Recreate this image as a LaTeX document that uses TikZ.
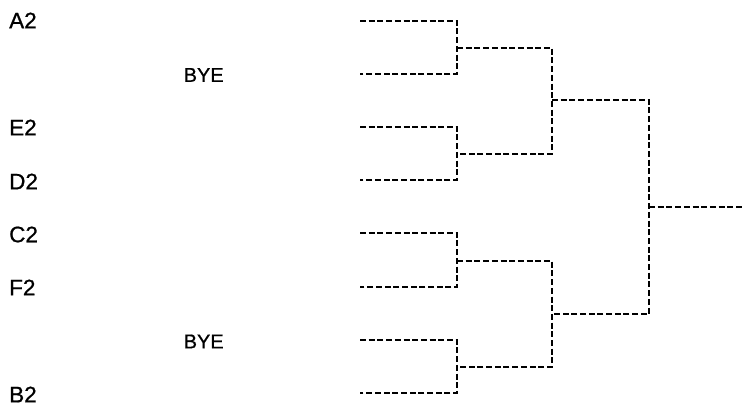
\documentclass[tikz,border=0pt]{standalone}
\usepackage{fontspec}
\setmainfont{Liberation Sans}
\newfontfamily\teamfont[FakeBold=0.8]{Liberation Sans}
\usepackage{xcolor}
\usepackage{tikz}
\definecolor{textblack}{RGB}{0, 0, 0}
\definecolor{linkblack}{RGB}{0, 0, 0}

\begin{document}
\begin{tikzpicture}[
        x=1pt, y=-1pt,
        team/.style={anchor=west, inner sep=0pt, text=textblack, font=\teamfont\fontsize{22.5}{22.5}\selectfont},
        bye/.style={anchor=west, inner sep=0pt, text=textblack, font=\teamfont\fontsize{20}{20}\selectfont},
        bracket/.style={draw=linkblack, line width=2.5pt, dash pattern=on 6pt off 2.7pt}
    ]
    \useasboundingbox (0, 0) rectangle (743, 410);

    % Teams
    \node[team] (a2) at (9, 20.5) {A2};
    \node[bye] (bye_top) at (183.5, 75) {BYE};
    \node[team] (e2) at (9, 127.5) {E2};
    \node[team] (d2) at (9, 181.5) {D2};
    \node[team] (c2) at (9, 234.5) {C2};
    \node[team] (f2) at (9, 287.5) {F2};
    \node[bye] (bye_bottom) at (183.5, 341.5) {BYE};
    \node[team] (b2) at (9, 394.5) {B2};

    % Slots
    \coordinate (slot_a2) at (360, 21);
    \coordinate (slot_bye_top) at (360, 74);
    \coordinate (slot_e2) at (360, 127);
    \coordinate (slot_d2) at (360, 180);
    \coordinate (slot_c2) at (360, 233);
    \coordinate (slot_f2) at (360, 287);
    \coordinate (slot_bye_bottom) at (360, 340);
    \coordinate (slot_b2) at (360, 393);

    % Rounds
    \coordinate (round_one_a) at (457, 48);
    \coordinate (round_one_b) at (457, 154);
    \coordinate (round_one_c) at (457, 261);
    \coordinate (round_one_d) at (457, 367);
    \coordinate (semi_top) at (552, 100);
    \coordinate (semi_bottom) at (552, 314);
    \coordinate (final) at (649, 207);
    \coordinate (winner) at (743, 207);

    % Links
    \draw[bracket] (slot_a2) -| (round_one_a) |- (slot_bye_top);
    \draw[bracket] (slot_e2) -| (round_one_b) |- (slot_d2);
    \draw[bracket] (slot_c2) -| (round_one_c) |- (slot_f2);
    \draw[bracket] (slot_bye_bottom) -| (round_one_d) |- (slot_b2);
    \draw[bracket] (round_one_a) -| (semi_top) |- (round_one_b);
    \draw[bracket] (round_one_c) -| (semi_bottom) |- (round_one_d);
    \draw[bracket] (semi_top) -| (final) |- (semi_bottom);
    \draw[bracket] (final) -- (winner);

    \end{tikzpicture}
\end{document}
